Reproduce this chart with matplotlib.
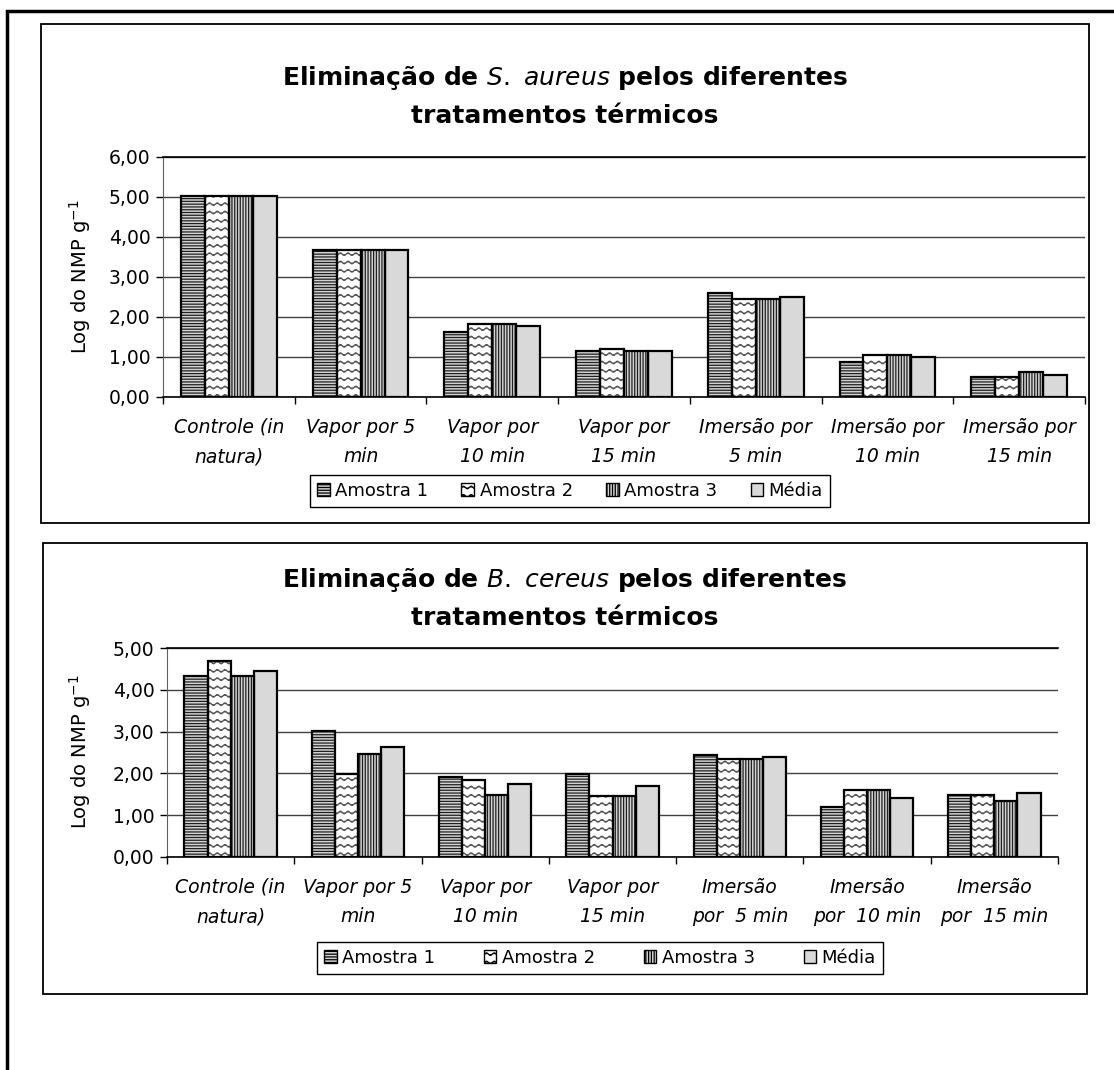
import warnings
import numpy as np
import matplotlib
matplotlib.use("Agg")
import matplotlib.pyplot as plt
from matplotlib import hatch as mhatch
from matplotlib.path import Path
from matplotlib.patches import Patch, Rectangle

warnings.filterwarnings("ignore")

plt.rcParams.update({
    "font.family": "DejaVu Sans",
    "mathtext.fontset": "dejavusans",
    "hatch.linewidth": 0.9,
})

# dados
series = ["Amostra 1", "Amostra 2", "Amostra 3", "Média"]

cat_sa = ["Controle (in\nnatura)", "Vapor por 5\nmin", "Vapor por\n10 min", "Vapor por\n15 min",
          "Imersão por\n5 min", "Imersão por\n10 min", "Imersão por\n15 min"]
sa_a1 = [5.03, 3.67, 1.63, 1.14, 2.60, 0.87, 0.51]
sa_a2 = [5.03, 3.67, 1.83, 1.19, 2.45, 1.06, 0.51]
sa_a3 = [5.03, 3.67, 1.83, 1.14, 2.45, 1.06, 0.62]
sa_med = [5.03, 3.67, 1.77, 1.14, 2.51, 0.99, 0.55]

cat_bc = ["Controle (in\nnatura)", "Vapor por 5\nmin", "Vapor por\n10 min", "Vapor por\n15 min",
          "Imersão\npor  5 min", "Imersão\npor  10 min", "Imersão\npor  15 min"]
bc_a1 = [4.32, 3.01, 1.91, 1.98, 2.45, 1.19, 1.48]
bc_a2 = [4.69, 1.99, 1.85, 1.47, 2.35, 1.61, 1.48]
bc_a3 = [4.32, 2.46, 1.48, 1.47, 2.35, 1.61, 1.33]
bc_med = [4.44, 2.64, 1.75, 1.71, 2.40, 1.42, 1.52]


# hachura ondulada (Amostra 2)
class WaveHatch(mhatch.HatchPatternBase):
    def __init__(self, hatch, density):
        self.num_rows = int(hatch.count("~") * density)
        self.num_pts = 141
        self.num_vertices = self.num_rows * self.num_pts

    def set_vertices_and_codes(self, vertices, codes):
        x = np.linspace(0, 1, self.num_pts)
        for i in range(self.num_rows):
            y0 = (i + 0.5) / self.num_rows
            s = slice(i * self.num_pts, (i + 1) * self.num_pts)
            vertices[s, 0] = x
            vertices[s, 1] = y0 + 0.013 * np.sin(2 * np.pi * 13 * x)
            codes[s] = Path.LINETO
            codes[i * self.num_pts] = Path.MOVETO


mhatch._hatch_types.append(WaveHatch)

faces = ["#d2d2d2", "white", "#d2d2d2", "#d9d9d9"]
hatches = ["------", "~~", "||||||", None]
hcolors = ["#202020", "#505050", "#202020", "#d9d9d9"]

W, H = 1114, 1070
fig = plt.figure(figsize=(W / 100, H / 100), dpi=100)


def fx(x):
    return x / W


def fy(y):
    return 1 - y / H


def box(x0, y0, x1, y1, lw):
    fig.add_artist(Rectangle((fx(x0), fy(y1)), fx(x1) - fx(x0), fy(y0) - fy(y1),
                             transform=fig.transFigure, fill=False, ec="black", lw=lw))


def chart(rect, cats, data, ymax):
    ax = fig.add_axes(rect)
    x = np.arange(len(cats))
    w = 1 / 5.5
    for k, vals in enumerate(data):
        pos = x + (k - 1.5) * w
        ax.bar(pos, vals, w, color=faces[k], edgecolor=hcolors[k], hatch=hatches[k],
               linewidth=0, zorder=2)
        ax.bar(pos, vals, w, fill=False, edgecolor="black", linewidth=1.6, zorder=3)
    ax.set_xlim(-0.5, len(cats) - 0.5)
    ax.set_ylim(0, ymax)
    yt = np.arange(0, ymax + 0.01, 1)
    ax.set_yticks(yt)
    ax.set_yticklabels([f"{v:.2f}".replace(".", ",") for v in yt], fontsize=13.5)
    ax.set_xticks(x)
    ax.set_xticklabels(cats, fontsize=13.5, fontstyle="italic", linespacing=1.7)
    ax.set_xticks(np.arange(-0.5, len(cats)), minor=True)
    ax.tick_params(axis="x", which="major", length=0, pad=15)
    ax.tick_params(axis="x", which="minor", length=5, direction="out", width=1)
    ax.tick_params(axis="y", length=5, direction="out", width=1, pad=4)
    ax.yaxis.grid(True, color="#404040", lw=1)
    ax.set_axisbelow(True)
    ax.spines["right"].set_visible(False)
    ax.spines["top"].set_linewidth(1.2)
    ax.spines["left"].set_color("#606060")
    ax.spines["bottom"].set_linewidth(1.2)
    return ax


handles = [Patch(facecolor=faces[k], edgecolor="black", hatch=hatches[k], linewidth=1)
           for k in range(4)]

# moldura geral
box(7, 11, 1125, 1085, 2.5)

# S. aureus
box(41, 24, 1089, 523, 1.3)
ax1 = chart([fx(163), fy(397), fx(1085) - fx(163), fy(157) - fy(397)],
            cat_sa, [sa_a1, sa_a2, sa_a3, sa_med], 6)
fig.text(fx(565), fy(78), r"Eliminação de $\mathit{S.\ aureus}$ pelos diferentes",
         ha="center", va="center", fontsize=18, fontweight="bold")
fig.text(fx(565), fy(116), "tratamentos térmicos", ha="center", va="center",
         fontsize=18, fontweight="bold")
fig.text(fx(80), fy(277), r"Log do NMP g$^{-1}$", rotation=90, ha="center", va="center",
         fontsize=14)
leg1 = ax1.legend(handles, series, loc="center", bbox_to_anchor=(fx(570), fy(491)),
                  bbox_transform=fig.transFigure, ncol=4, fancybox=False, edgecolor="black",
                  handlelength=0.7, handleheight=0.7, handletextpad=0.3, columnspacing=1.85,
                  borderpad=0.4, fontsize=13, framealpha=1)
leg1.get_frame().set_linewidth(1.0)

# B. cereus
box(43, 543, 1087, 994, 1.3)
ax2 = chart([fx(167), fy(857), fx(1058) - fx(167), fy(648) - fy(857)],
            cat_bc, [bc_a1, bc_a2, bc_a3, bc_med], 5)
fig.text(fx(565), fy(580), r"Eliminação de $\mathit{B.\ cereus}$ pelos diferentes",
         ha="center", va="center", fontsize=18, fontweight="bold")
fig.text(fx(565), fy(618), "tratamentos térmicos", ha="center", va="center",
         fontsize=18, fontweight="bold")
fig.text(fx(80), fy(752), r"Log do NMP g$^{-1}$", rotation=90, ha="center", va="center",
         fontsize=14)
leg2 = ax2.legend(handles, series, loc="center", bbox_to_anchor=(fx(600), fy(958)),
                  bbox_transform=fig.transFigure, ncol=4, fancybox=False, edgecolor="black",
                  handlelength=0.7, handleheight=0.7, handletextpad=0.3, columnspacing=2.7,
                  borderpad=0.4, fontsize=13, framealpha=1)
leg2.get_frame().set_linewidth(1.0)

fig.savefig("out.png", dpi=100)
